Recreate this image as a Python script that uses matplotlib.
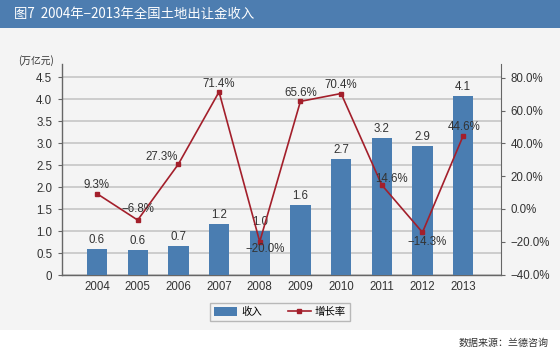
import matplotlib
matplotlib.use("Agg")
import matplotlib.pyplot as plt
from matplotlib.patches import Rectangle
from matplotlib.lines import Line2D
from matplotlib.patches import Patch

plt.rcParams['font.family'] = ['Liberation Sans', 'Noto Sans CJK SC', 'DejaVu Sans']
plt.rcParams['axes.unicode_minus'] = True

years = ['2004', '2005', '2006', '2007', '2008', '2009', '2010', '2011', '2012', '2013']
income = [0.59, 0.58, 0.66, 1.16, 1.0, 1.59, 2.64, 3.12, 2.93, 4.07]
income_labels = ['0.6', '0.6', '0.7', '1.2', '1.0', '1.6', '2.7', '3.2', '2.9', '4.1']
growth = [9.3, -6.8, 27.3, 71.4, -20.0, 65.6, 70.4, 14.6, -14.3, 44.6]
left_ticks = [0, 0.5, 1.0, 1.5, 2.0, 2.5, 3.0, 3.5, 4.0, 4.5]
right_ticks = [-40, -20, 0, 20, 40, 60, 80]


def pct(v):
    s = f'{abs(v):.1f}%'
    return ('\u2212' + s) if v < 0 else s


W, H = 560, 355
fig = plt.figure(figsize=(W / 100, H / 100), dpi=100)
fig.patch.set_facecolor('white')

# chart panel background
fig.add_artist(Rectangle((0, 1 - 330 / H), 1, (330 - 28) / H, transform=fig.transFigure,
                         facecolor='#f4f4f4', edgecolor='none', zorder=-10))
# title bar
fig.add_artist(Rectangle((0, 1 - 28 / H), 1, 28 / H, transform=fig.transFigure,
                         facecolor='#4d7db0', edgecolor='none', zorder=-5))
fig.text(14 / W, 1 - 14 / H, '图7  2004年\u22122013年全国土地出让金收入', color='white',
         fontsize=9.6, va='center', ha='left',
         family=['Noto Sans CJK SC', 'DejaVu Sans'])
fig.text(549 / W, 1 - 343 / H, '数据来源：兰德咨询', color='#333333', fontsize=7.2,
         va='center', ha='right', family=['Noto Sans CJK SC', 'DejaVu Sans'])
fig.text(36 / W, 1 - 61 / H, '(万亿元)', fontsize=7, color='#333333', ha='center', va='center',
         family=['Noto Sans CJK SC', 'DejaVu Sans'])

ax_l, ax_r, ax_t, ax_b = 62, 501, 64, 275
ax = fig.add_axes([ax_l / W, 1 - ax_b / H, (ax_r - ax_l) / W, (ax_b - ax_t) / H])
ax.set_facecolor('none')
x = list(range(len(years)))
bar_color = '#4a7db1'
ax.bar(x, income, width=0.5, color=bar_color, zorder=3, label='收入')
ax.set_ylim(0, 4.8)
ax.set_xlim(-0.86, 9.93)
ax.set_yticks(left_ticks)
ax.set_yticklabels(['0'] + [f'{v:.1f}' for v in left_ticks[1:]])
ax.set_xticks(x)
ax.set_xticklabels(years)
ax.yaxis.grid(True, color='#c9c9c9', linewidth=1.3, zorder=0)
ax.set_axisbelow(True)
ax.spines['top'].set_visible(False)
ax.spines['right'].set_visible(False)
for s in ['left', 'bottom']:
    ax.spines[s].set_color('#666666')
    ax.spines[s].set_linewidth(1.0)
ax.tick_params(axis='both', colors='#333333', labelsize=8.3, length=0, pad=4)
ax.tick_params(axis='y', length=3, color='#666666')
for xi, v, lab in zip(x, income, income_labels):
    ax.annotate(lab, (xi, v), xytext=(0, 2), textcoords='offset points',
                ha='center', va='bottom', fontsize=8.3, color='#333333', zorder=6)

ax2 = ax.twinx()
ax2.set_ylim(-40.3, 88.4)
ax2.set_yticks(right_ticks)
ax2.set_yticklabels([pct(v) for v in right_ticks])
line_color = '#a31f2b'
ax2.plot(x, growth, color=line_color, linewidth=1.2, marker='s', markersize=3,
         zorder=5, label='增长率')
for s in ['top', 'left', 'bottom']:
    ax2.spines[s].set_visible(False)
ax2.spines['right'].set_color('#666666')
ax2.tick_params(axis='y', colors='#333333', labelsize=8.3, length=3, color='#666666', pad=4)

# label offsets in points: (dx, dy), dy is for label centre
offsets = [(0, 6), (0, 8), (-12, 5), (0, 6), (4, -5), (0, 6), (0, 6), (7, 4), (3, -7), (1, 6)]
for xi, g, off in zip(x, growth, offsets):
    ax2.annotate(pct(g), (xi, g), xytext=off, textcoords='offset points',
                 ha='center', va='center', fontsize=8.3, color='#333333', zorder=7)

handles = [Patch(facecolor=bar_color, edgecolor='none', label='收入'),
           Line2D([0], [0], color=line_color, marker='s', markersize=3, linewidth=1.2,
                  label='增长率')]
leg = fig.legend(handles=handles, loc='center', bbox_to_anchor=(280 / W, 1 - 312 / H),
                 ncol=2, frameon=True, handlelength=2.2, handleheight=0.9,
                 columnspacing=2.5, borderpad=0.35, handletextpad=0.4,
                 prop={'family': ['Noto Sans CJK SC', 'DejaVu Sans'], 'size': 7.5})
leg.get_frame().set_edgecolor('#aaaaaa')
leg.get_frame().set_facecolor('#f4f4f4')
leg.get_frame().set_boxstyle('square', pad=0)
leg.get_frame().set_linewidth(1.0)

fig.savefig('out.png', dpi=100, facecolor=fig.get_facecolor())
